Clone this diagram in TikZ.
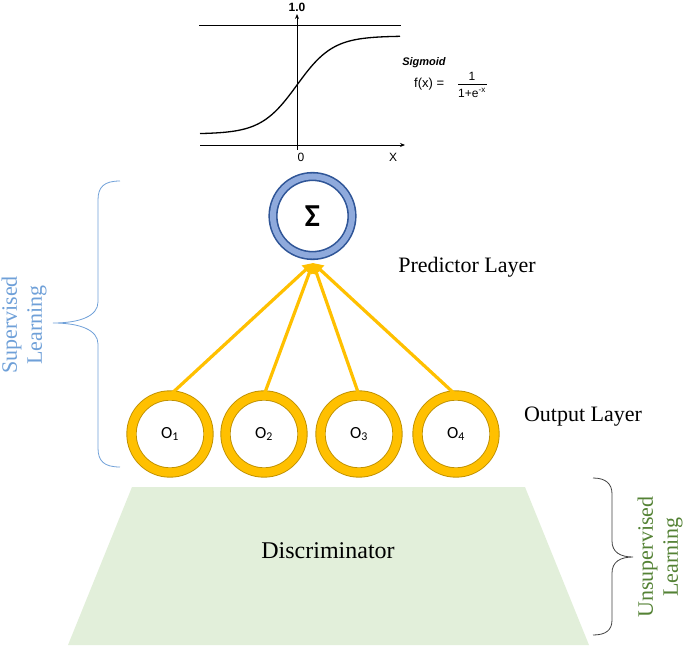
\documentclass[tikz,border=0pt]{standalone}
\usepackage{fontspec}
\setmainfont{Liberation Serif}
\newfontfamily\calibri{Carlito}
\newfontfamily\arial{Liberation Sans}
\usetikzlibrary{arrows.meta}
\definecolor{gold}{HTML}{FFC000}
\definecolor{golddark}{HTML}{BF9000}
\definecolor{ringblue}{HTML}{8FAADC}
\definecolor{darkblue}{HTML}{2F5597}
\definecolor{suplblue}{HTML}{6FA0D8}
\definecolor{unsgreen}{HTML}{548235}
\definecolor{discgreen}{HTML}{E2EFDA}
\tikzset{
  outring/.style={circle, draw=golddark, line width=0.9pt, double=gold, double distance=8.5pt,
    minimum size=77pt, inner sep=0pt, font=\calibri\fontsize{17}{17}\selectfont},
  sigring/.style={circle, draw=darkblue, line width=1.6pt, double=ringblue, double distance=6pt,
    minimum size=79pt, inner sep=0pt, font=\calibri\bfseries\fontsize{32}{32}\selectfont},
  layerlabel/.style={font=\fontsize{22}{22}\selectfont},
  conn/.style={gold, line width=3.2pt, -{Triangle[width=11pt,length=10pt]}, shorten <=-2pt},
  axisline/.style={black, line width=0.9pt},
  sigtext/.style={font=\arial\fontsize{12}{12}\selectfont, inner sep=0pt}
}
\begin{document}
\begin{tikzpicture}[x=1pt,y=-1pt]
\useasboundingbox (0,0) rectangle (685,647);
% Sigmoid plot
\draw[axisline] (199,25) -- (401,25);
\draw[axisline, -{Stealth[length=5pt,width=4pt]}] (200,145) -- (405,145);
\draw[axisline, -{Stealth[length=5pt,width=4pt]}] (297,150) -- (297,14);
\draw[black, line width=1.3pt, smooth] plot[domain=200:400, samples=120] (\x, {134 - 98/(1+exp(-(\x-297)/18))});
\node[sigtext, font=\arial\bfseries\fontsize{12}{12}\selectfont] (one) at (297,7) {1.0};
\node[sigtext] (zero) at (301,157) {0};
\node[sigtext] (xlab) at (393,157) {X};
\node[sigtext, font=\arial\bfseries\itshape\fontsize{11}{11}\selectfont] (sigm) at (424,63) {Sigmoid};
\node[sigtext, anchor=west, font=\arial\fontsize{13}{13}\selectfont] (fx) at (414,84) {f(x) =};
\node[sigtext] (num) at (472,76) {1};
\node[sigtext] (den) at (472,93) {1+e\textsuperscript{-x}};
\draw[black, line width=0.6pt] (458,84.5) -- (487,84.5);
% Sigma node
\node[sigring] (sigma) at (312.5,216) {Σ};
% Output nodes
\node[outring] (o1) at (170,434) {O\textsubscript{1}};
\node[outring] (o2) at (264,434) {O\textsubscript{2}};
\node[outring] (o3) at (359,434) {O\textsubscript{3}};
\node[outring] (o4) at (456,434) {O\textsubscript{4}};
\coordinate (tip) at (313,263);
\foreach \o in {o1,o2,o3,o4}{\draw[conn] (\o.north) -- (tip);}
% Layer labels
\node[layerlabel] (pred) at (467,267) {Predictor Layer};
\node[layerlabel] (outl) at (583,417) {Output Layer};
% Discriminator
\fill[discgreen] (132,487) -- (525,487) -- (589,645) -- (68,645) -- cycle;
\node[font=\fontsize{24}{24}\selectfont] (disc) at (328,551) {Discriminator};
% Supervised brace
\draw[suplblue, line width=0.8pt] (120,181) .. controls (104,181) and (98,187) .. (98,200) -- (98,302)
  .. controls (98,316) and (80,323) .. (53,323)
  .. controls (80,323) and (98,330) .. (98,344) -- (98,448)
  .. controls (98,461) and (104,467) .. (120,467);
\node[rotate=90, align=center, text=suplblue, font=\fontsize{22}{25}\selectfont] (sup) at (24,325) {Supervised\\Learning};
% Unsupervised brace
\draw[black!75, line width=0.8pt] (593,478) .. controls (606,478) and (612,484) .. (612,494) -- (612,541)
  .. controls (612,552) and (620,557) .. (633,557)
  .. controls (620,557) and (612,562) .. (612,573) -- (612,620)
  .. controls (612,630) and (606,635) .. (593,635);
\node[rotate=90, align=center, text=unsgreen, font=\fontsize{22}{25}\selectfont] (uns) at (660,557) {Unsupervised\\Learning};
\end{tikzpicture}
\end{document}
